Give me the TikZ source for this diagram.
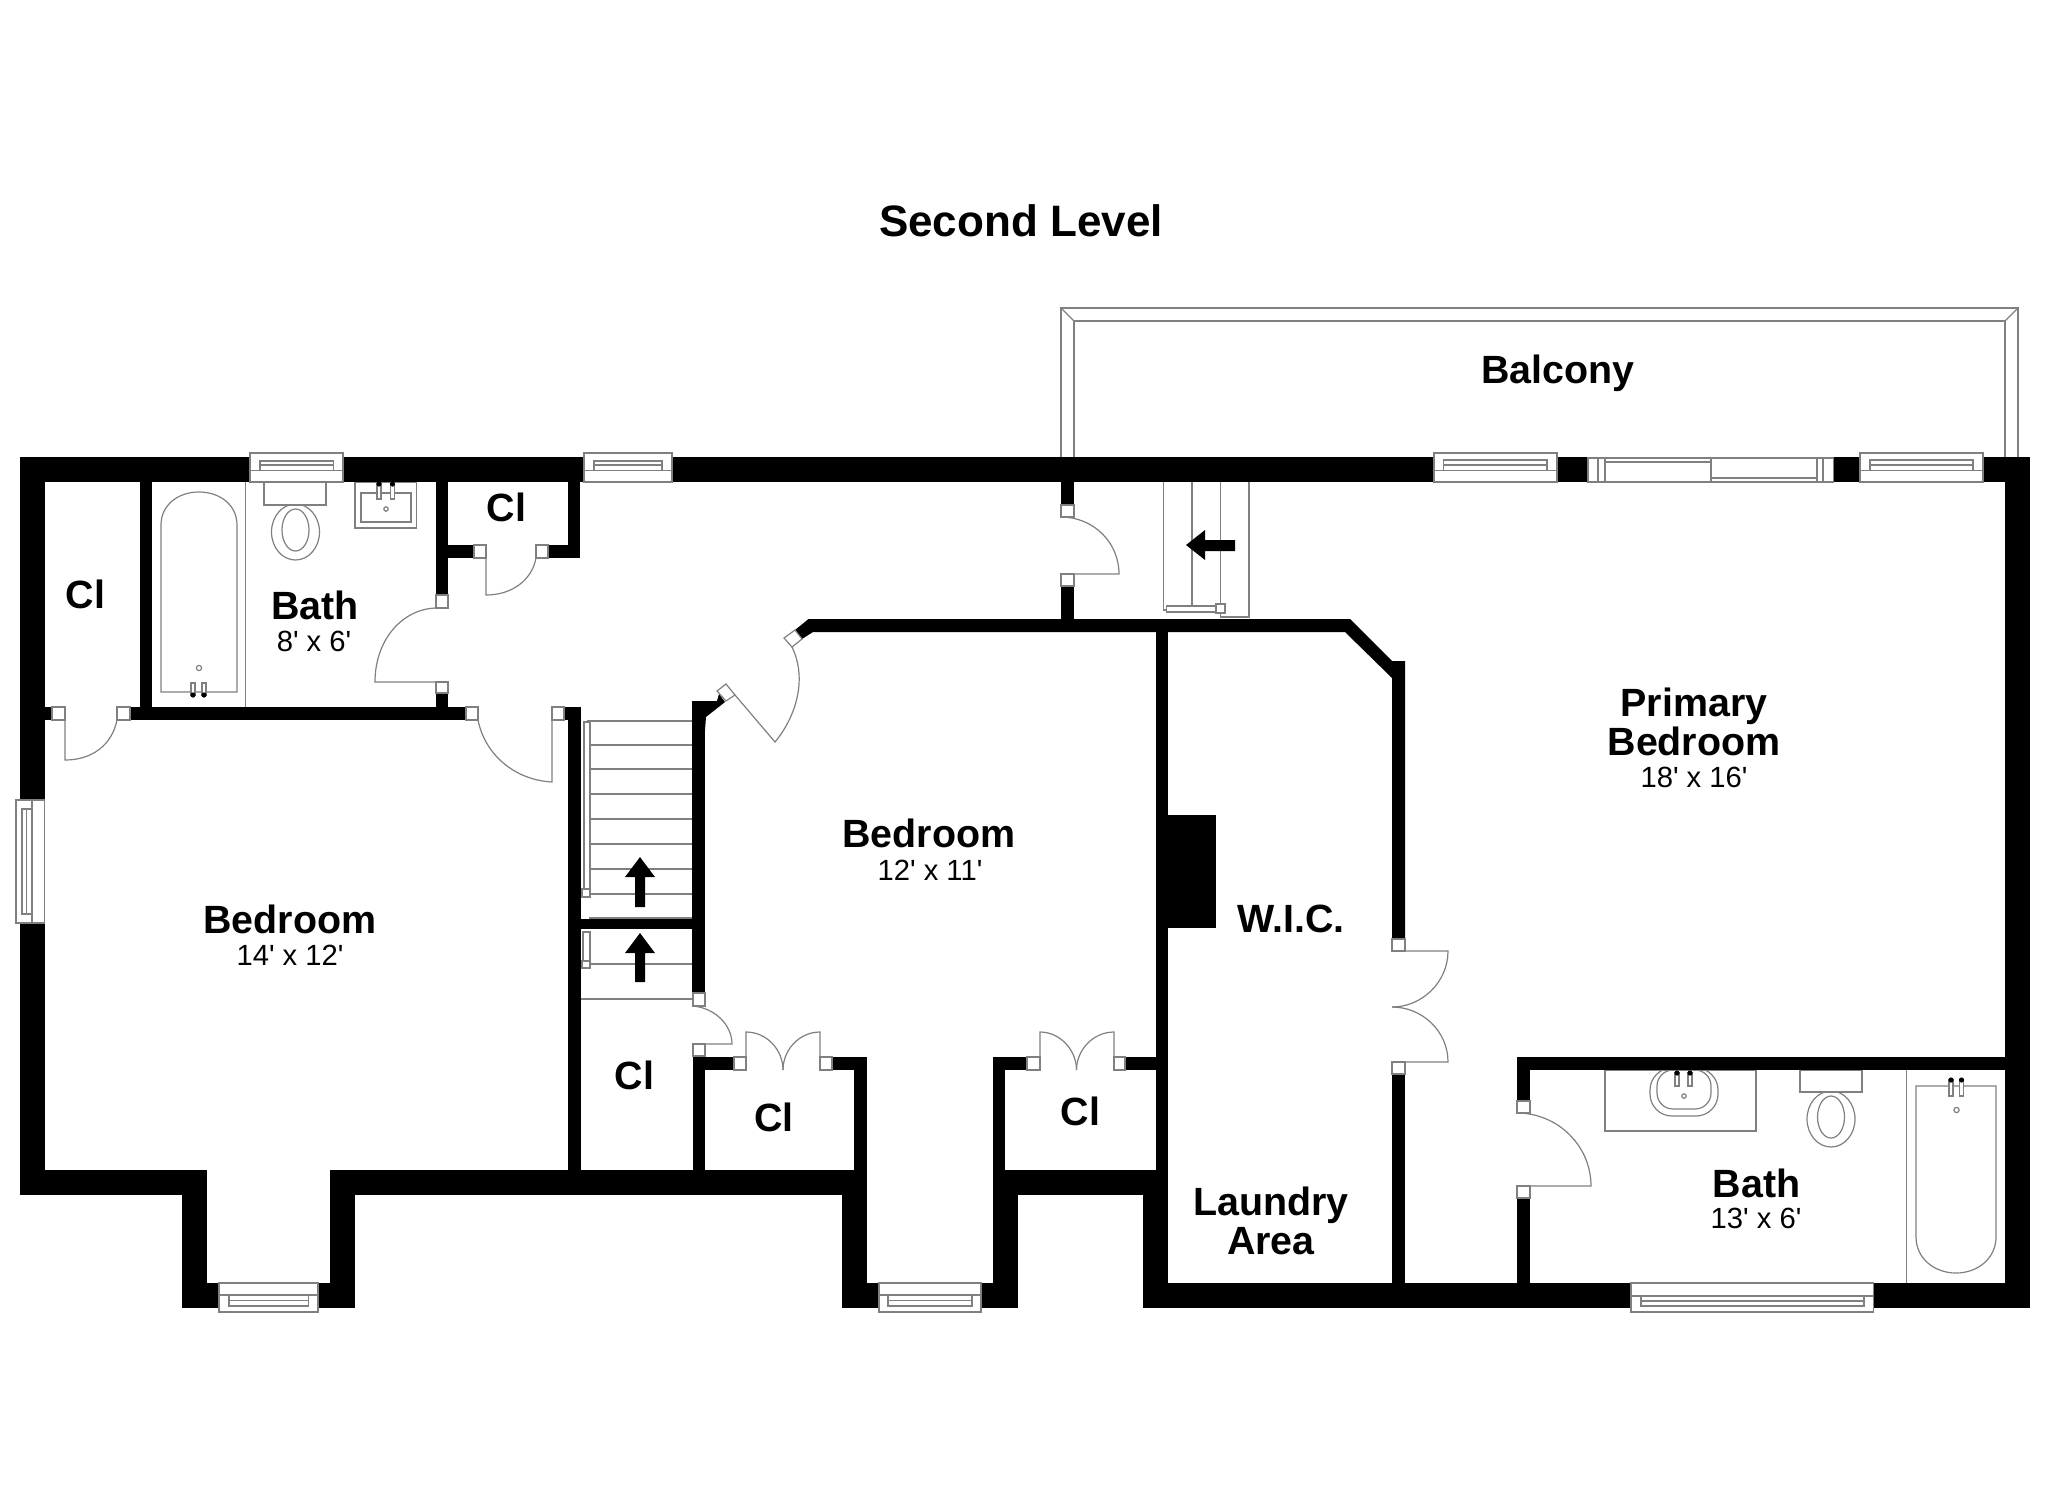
\documentclass[tikz,border=0pt]{standalone}
\usepackage{fontspec}
\setmainfont{Liberation Sans}
\definecolor{linegray}{HTML}{808080}
\newcommand{\wl}[4]{\fill[wallfill] (#1,#2) rectangle (#3,#4);}
\newcommand{\jb}[4]{\draw[ln,fill=white] (#1,#2) rectangle (#3,#4);}
\newcommand{\ft}{\textquotesingle}
% horizontal window: x1,x2,sash x1,sash x2,top,bottom, three sash lines a<b<c
\newcommand{\winh}[9]{\draw[ln,fill=white] (#1,#5) rectangle (#2,#6);
  \draw[ln] (#1,#9) -- (#2,#9);
  \draw[ln] (#3,#7) rectangle (#4,#9);
  \draw[ln] (#3,#8) -- (#4,#8);}
\newcommand{\fcttop}[3]{\draw[ln,fill=white] (#1-2,#2) rectangle (#1+2,#3);\fill[black] (#1,#2) circle[radius=2.6];}
\newcommand{\fctbot}[3]{\draw[ln,fill=white] (#1-2,#2) rectangle (#1+2,#3);\fill[black] (#1,#3) circle[radius=2.6];}
\tikzset{
  wallfill/.style={fill=black},
  ln/.style={draw=linegray,line width=0.6pt,line join=miter},
  bigtitle/.style={anchor=base,inner sep=0pt,font=\bfseries\fontsize{22}{26}\selectfont},
  room/.style={anchor=base,inner sep=0pt,font=\bfseries\fontsize{19.7}{23}\selectfont},
  dim/.style={anchor=base,inner sep=0pt,font=\fontsize{14.6}{18}\selectfont},
  stairarrow/.style={fill=black},
}
\begin{document}
\begin{tikzpicture}[x=0.5pt,y=-0.5pt]
\useasboundingbox (0,0) rectangle (2048,1489);
\fill[white] (0,0) rectangle (2048,1489);

% balcony
\draw[ln] (1061,457) -- (1061,308) -- (2018,308) -- (2018,457);
\draw[ln] (1074,457) -- (1074,321) -- (2005,321) -- (2005,457);
\draw[ln] (1061,308) -- (1074,321);
\draw[ln] (2018,308) -- (2005,321);

% fixtures, upper bath
\draw[ln] (245.5,482) -- (245.5,707);
\draw[ln] (161,692) -- (161,525) .. controls (161,505) and (178,492) .. (199,492) .. controls (220,492) and (237,505) .. (237,525) -- (237,692) -- cycle;
\fctbot{193}{683}{695}
\fctbot{204}{683}{695}
\draw[ln] (199,668) circle[radius=2.6];
\draw[ln] (264,482) rectangle (326,505);
\draw[ln] (295.5,532) ellipse[x radius=24,y radius=28];
\draw[ln] (295.5,530) ellipse[x radius=13.5,y radius=21];
\draw[ln,fill=white] (264,482) rectangle (326,505);
\draw[ln] (355,482) rectangle (416.5,528);
\draw[ln] (361,493) rectangle (411,522);
\fcttop{379}{484}{499}
\fcttop{392.5}{484}{499}
\draw[ln] (386,509) circle[radius=2.2];

% fixtures, lower bath
\draw[ln] (1906.5,1070) -- (1906.5,1283);
\draw[ln] (1916,1086) -- (1916,1237) .. controls (1916,1258) and (1934,1273) .. (1956,1273) .. controls (1978,1273) and (1996,1258) .. (1996,1237) -- (1996,1086) -- cycle;
\fcttop{1951}{1080}{1096}
\fcttop{1961.5}{1080}{1096}
\draw[ln] (1956.5,1110) circle[radius=2.6];
\draw[ln] (1605,1070) rectangle (1756,1131);
\draw[ln,rounded corners=11pt] (1650,1068) rectangle (1718,1116);
\draw[ln,rounded corners=8pt] (1657,1070) rectangle (1711,1109);
\fcttop{1677}{1073}{1086}
\fcttop{1690}{1073}{1086}
\draw[ln] (1684,1096) circle[radius=2.2];
\draw[ln] (1831,1119) ellipse[x radius=24,y radius=28];
\draw[ln] (1831,1117) ellipse[x radius=13.5,y radius=21];
\draw[ln,fill=white] (1800,1070) rectangle (1862,1092);

% stairs
\foreach \yy in {745,769,794,819,844,869,894,918} {\draw[ln] (589,\yy) -- (692,\yy);}
\draw[ln] (587,721) -- (692,721);
\draw[ln,fill=white] (584,722) rectangle (590,890);
\draw[ln,fill=white] (582,889) rectangle (590,897);
\draw[ln] (581,964) -- (692,964);
\draw[ln] (579,999) -- (692,999);
\draw[ln,fill=white] (583,932) rectangle (590,962);
\draw[ln,fill=white] (582,961) rectangle (590,968);
\draw[ln] (1163.5,482) -- (1163.5,610) -- (1167,610);
\draw[ln] (1192,482) -- (1192,606);
\draw[ln] (1220.5,482) -- (1220.5,617) -- (1249,617) -- (1249,482);
\draw[ln,fill=white] (1166.5,606) rectangle (1217,612);
\draw[ln,fill=white] (1216,604) rectangle (1225,613);
\fill[stairarrow] (640,857) -- (655,877) -- (645,877) -- (645,907) -- (635,907) -- (635,877) -- (625,877) -- cycle;
\fill[stairarrow] (640,933) -- (655,953) -- (645,953) -- (645,982) -- (635,982) -- (635,953) -- (625,953) -- cycle;
\fill[stairarrow] (1186,545) -- (1205,530) -- (1205,540) -- (1235,540) -- (1235,551) -- (1205,551) -- (1205,560) -- cycle;

% outer walls
\wl{20}{457}{2030}{482}
\wl{20}{457}{45}{1195}
\wl{20}{1170}{207}{1195}
\wl{182}{1170}{207}{1308}
\wl{330}{1170}{355}{1308}
\wl{182}{1283}{355}{1308}
\wl{330}{1170}{867}{1195}
\wl{842}{1170}{867}{1308}
\wl{993}{1170}{1018}{1308}
\wl{842}{1283}{1018}{1308}
\wl{993}{1170}{1168}{1195}
\wl{1143}{1170}{1168}{1308}
\wl{1143}{1283}{2030}{1308}
\wl{2005}{457}{2030}{1308}

% inner walls
\wl{140}{482}{152}{707}
\wl{45}{707}{52}{720}
\wl{130}{707}{466}{720}
\wl{564}{707}{580}{720}
\wl{436}{482}{448}{595}
\wl{436}{693}{448}{707}
\wl{448}{545}{474}{558}
\wl{548}{545}{580}{558}
\wl{568}{482}{580}{558}
\wl{568}{707}{581}{1170}
\wl{581}{919}{693}{929}
\wl{692}{701}{705}{993}
\wl{693}{1056}{705}{1170}
\wl{693}{1057}{734}{1070}
\wl{832}{1057}{867}{1070}
\wl{854}{1057}{867}{1170}
\wl{993}{1057}{1027}{1070}
\wl{1125}{1057}{1168}{1070}
\wl{993}{1057}{1005}{1170}
\wl{1156}{632}{1168}{1170}
\wl{1156}{815}{1216}{928}
\wl{1061}{482}{1074}{505}
\wl{1061}{586}{1074}{619}
\wl{1392}{1074}{1405}{1283}
\wl{1517}{1057}{1530}{1101}
\wl{1517}{1198}{1530}{1283}
\wl{1517}{1057}{2005}{1070}
\fill[wallfill] (795,630) -- (808.5,619) -- (1350,619) -- (1392,661) -- (1405,661) -- (1405,939) -- (1392,939) -- (1392,678) -- (1345,632) -- (813,632) -- (802,639) -- cycle;
\fill[wallfill] (692,701) -- (717,701) -- (719,694) -- (725,702) -- (706,717) -- (705,730) -- (692,730) -- cycle;

% jambs
\jb{52}{707}{65}{720}
\jb{117}{707}{130}{720}
\jb{466}{707}{478}{720}
\jb{552}{707}{564}{720}
\jb{436}{595}{448}{608}
\jb{436}{682}{448}{693}
\jb{474}{545}{486}{558}
\jb{536}{545}{548}{558}
\jb{1061}{505}{1074}{517}
\jb{1061}{574}{1074}{586}
\jb{693}{993}{705}{1006}
\jb{693}{1044}{705}{1056}
\jb{734}{1057}{746}{1070}
\jb{820}{1057}{832}{1070}
\jb{1027}{1057}{1040}{1070}
\jb{1114}{1057}{1125}{1070}
\jb{1392}{939}{1405}{951}
\jb{1392}{1062}{1405}{1074}
\jb{1517}{1101}{1530}{1113}
\jb{1517}{1186}{1530}{1198}
\draw[ln,fill=white] (784,638) -- (795,630) -- (802,639) -- (792,647) -- cycle;
\draw[ln,fill=white] (717,691) -- (726,684) -- (735,695) -- (726,701) -- cycle;

% door leaves and swings
\draw[ln] (65,720) -- (65,760) .. controls (92,760) and (112,745) .. (117,720);
\draw[ln] (478,720) .. controls (485,755) and (515,780) .. (552,782) -- (552,720);
\draw[ln] (486,558) -- (486,595) .. controls (512,595) and (532,580) .. (536,558);
\draw[ln] (436,608) .. controls (402,609) and (375,640) .. (375,682) -- (436,682);
\draw[ln] (1061,517) .. controls (1093,517) and (1119,542) .. (1119,574) -- (1061,574);
\draw[ln] (735,695) -- (775,742) .. controls (795,718) and (808,680) .. (792,647);
\draw[ln] (693,1006) .. controls (715,1008) and (732,1025) .. (732,1044) -- (693,1044);
\draw[ln] (746,1070) -- (746,1032) .. controls (767,1032) and (783,1050) .. (783,1070);
\draw[ln] (820,1070) -- (820,1032) .. controls (799,1032) and (783,1050) .. (783,1070);
\draw[ln] (1040,1070) -- (1040,1032) .. controls (1060,1032) and (1076.5,1050) .. (1076.5,1070);
\draw[ln] (1114,1070) -- (1114,1032) .. controls (1093,1032) and (1076.5,1050) .. (1076.5,1070);
\draw[ln] (1392,951) -- (1448,951) .. controls (1448,982) and (1422,1007) .. (1392,1007);
\draw[ln] (1392,1062) -- (1448,1062) .. controls (1448,1031) and (1422,1007) .. (1392,1007);
\draw[ln] (1517,1113) .. controls (1558,1113) and (1591,1146) .. (1591,1186) -- (1517,1186);

% windows
\winh{250}{343}{260}{333.5}{453}{482}{461}{465}{470.5}
\winh{584}{672}{594}{662}{453}{482}{461}{465}{470.5}
\winh{1434}{1557}{1443.5}{1547}{453}{482}{460}{465}{470.5}
\winh{1860}{1983}{1870}{1973}{453}{482}{460}{465}{470.5}
% bottom windows (sash towards the outside)
\draw[ln,fill=white] (219,1283) rectangle (318,1312);
\draw[ln] (219,1295) -- (318,1295);
\draw[ln] (229,1295) rectangle (308.5,1306);
\draw[ln] (229,1300.5) -- (308.5,1300.5);
\draw[ln,fill=white] (879,1283) rectangle (981,1312);
\draw[ln] (879,1295) -- (981,1295);
\draw[ln] (888,1295) rectangle (972,1306);
\draw[ln] (888,1300.5) -- (972,1300.5);
\draw[ln,fill=white] (1631,1283) rectangle (1873.5,1312);
\draw[ln] (1631,1296) -- (1873.5,1296);
\draw[ln] (1641,1296) rectangle (1864,1306);
\draw[ln] (1641,1301) -- (1864,1301);
% left window
\draw[ln,fill=white] (16,800) rectangle (44.5,923);
\draw[ln] (32,800) -- (32,923);
\draw[ln] (22,809) rectangle (32,914);
\draw[ln] (26.7,809) -- (26.7,914);
% sliding door
\draw[ln,fill=white] (1588,458) rectangle (1833.5,482);
\draw[ln] (1598,458) -- (1598,482);
\draw[ln] (1605,458) -- (1605,482);
\draw[ln] (1711,458) -- (1711,482);
\draw[ln] (1817,458) -- (1817,482);
\draw[ln] (1823,458) -- (1823,482);
\draw[ln] (1605,462) -- (1711,462);
\draw[ln] (1711,478) -- (1817,478);

% labels
\node[bigtitle] (title) at (1021,236) {Second Level};
\node[room] (balcony) at (1558,383) {Balcony};
\node[room] (cl1) at (85.5,608.5) {Cl};
\node[room] (cl2) at (506.5,521) {Cl};
\node[room] (cl3) at (634.5,1089.5) {Cl};
\node[room] (cl4) at (774,1131) {Cl};
\node[room] (cl5) at (1080.5,1125) {Cl};
\node[room] (bath1) at (315,619) {Bath};
\node[dim] (bath1d) at (314,651) {8\ft{} x 6\ft};
\node[room] (bed1) at (290,933) {Bedroom};
\node[dim] (bed1d) at (290,965) {14\ft{} x 12\ft};
\node[room] (bed2) at (929,847.5) {Bedroom};
\node[dim] (bed2d) at (930,880) {12\ft{} x 11\ft};
\node[room] (prim1) at (1694,716) {Primary};
\node[room] (prim2) at (1694,755) {Bedroom};
\node[dim] (primd) at (1694,787) {18\ft{} x 16\ft};
\node[room] (wic) at (1291,932) {W.I.C.};
\node[room] (lau1) at (1271,1215) {Laundry};
\node[room] (lau2) at (1271,1254) {Area};
\node[room] (bath2) at (1756.5,1197) {Bath};
\node[dim] (bath2d) at (1756,1228) {13\ft{} x 6\ft};
\end{tikzpicture}
\end{document}
